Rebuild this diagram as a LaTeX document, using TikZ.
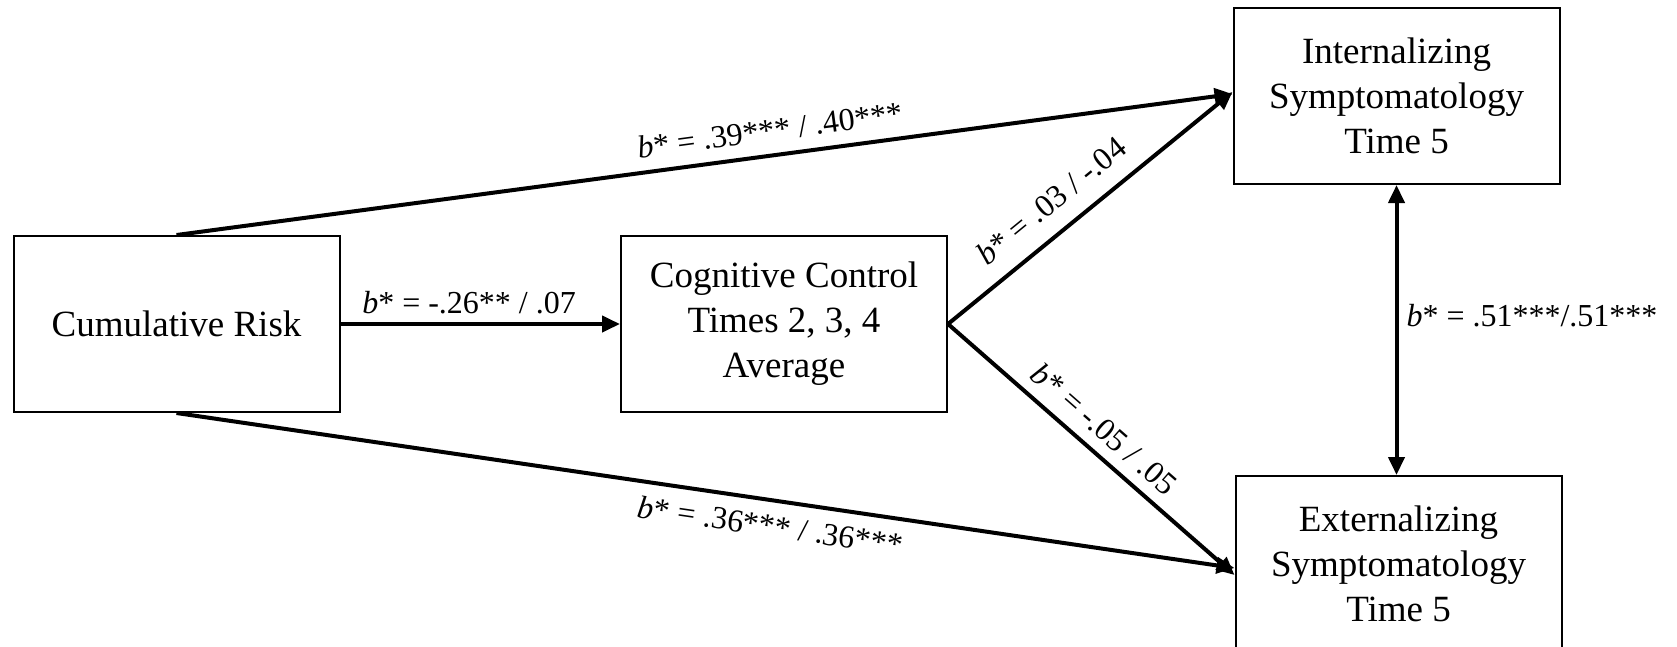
\documentclass[tikz,border=0pt]{standalone}
\usepackage{fontspec}
\setmainfont{Liberation Serif}
\usetikzlibrary{arrows.meta,calc}
\begin{document}
\begin{tikzpicture}[x=1pt,y=-1pt,
  box/.style={draw, line width=2pt, minimum width=326pt, minimum height=176pt,
    align=center, inner sep=0pt, font=\fontsize{37}{45}\selectfont},
  arr/.style={line width=4pt, -{Triangle[length=18pt,width=16pt]}},
  darr/.style={line width=4pt, {Triangle[length=18pt,width=16pt]}-{Triangle[length=18pt,width=16pt]}},
  lab/.style={font=\fontsize{32}{38}\selectfont, inner sep=2pt}]
\useasboundingbox (0,0) rectangle (1677,646);
\clip (0,0) rectangle (1677,646);
\fill[white] (0,0) rectangle (1677,646);

\node[box] (cr) at (176.5,324) {Cumulative Risk};
\node[box] (cc) at (784,324) {Cognitive Control\\Times 2, 3, 4\\Average};
\node[box] (in) at (1396.5,96) {Internalizing\\Symptomatology\\Time 5};
\node[box] (ex) at (1398.5,564) {Externalizing\\Symptomatology\\Time 5};

\draw[arr] (cr.east) -- node[lab, above=6pt, pos=0.46] {\textit{b}* = -.26** / .07} (cc.west);
\draw[arr] (cr.north) -- node[lab, above=10pt, sloped, pos=0.565] {\textit{b}* = .39*** / .40***} ([yshift=2pt]in.west);
\draw[arr] (cr.south) -- node[lab, below=10pt, sloped, pos=0.565] {\textit{b}* = .36*** / .36***} ([yshift=-4pt]ex.west);
\draw[arr] (cc.east) -- node[lab, above=15pt, sloped, pos=0.43] {\textit{b}* = .03 / -.04} ([yshift=4pt]in.west);
\draw[arr] (cc.east) -- node[lab, above=9pt, sloped, pos=0.49] {\textit{b}* = -.05 / .05} ([yshift=-11pt]ex.west);
\draw[darr] (in.south) -- node[lab, right=6pt, pos=0.45] {\textit{b}* = .51***/.51***} (in.south |- ex.north);
\end{tikzpicture}
\end{document}
